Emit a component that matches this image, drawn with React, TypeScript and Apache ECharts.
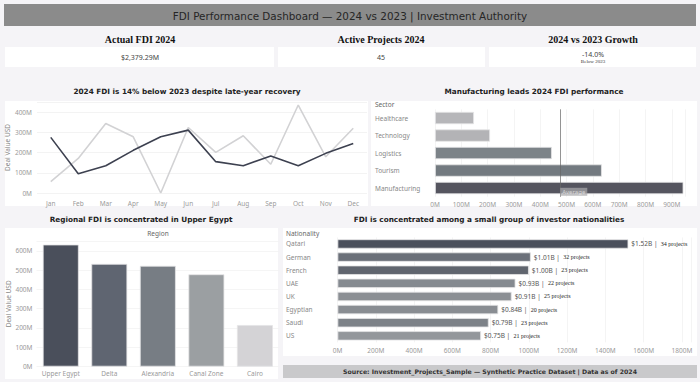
import React, { useEffect, useRef } from "react";
import * as echarts from "echarts";

const months = ["Jan", "Feb", "Mar", "Apr", "May", "Jun", "Jul", "Aug", "Sep", "Oct", "Nov", "Dec"];
const fdi2024 = [275, 95, 135, 211, 278, 311, 155, 135, 183, 135, 196, 245];
const fdi2023 = [56, 171, 344, 278, 0, 324, 201, 283, 142, 435, 179, 320];

const sectors = ["Healthcare", "Technology", "Logistics", "Tourism", "Manufacturing"];
const sectorValues = [148, 209, 444, 634, 944];
const sectorColors = ["#b6b6b9", "#b3b3b6", "#7c8388", "#737a80", "#55555f"];

const regions = ["Upper Egypt", "Delta", "Alexandria", "Canal Zone", "Cairo"];
const regionValues = [632, 532, 522, 478, 215];
const regionColors = ["#4a4f5b", "#5f6571", "#777d84", "#9b9fa2", "#d4d3d6"];

const nationalities = ["Qatari", "German", "French", "UAE", "UK", "Egyptian", "Saudi", "US"];
const nationalityValues = [1520, 1010, 1000, 930, 910, 840, 790, 750];
const nationalityProjects = [34, 32, 23, 22, 25, 20, 23, 21];
const nationalityColors = ["#4b505c", "#6b7079", "#60656e", "#858a90", "#8b8f94", "#898d92", "#7d8288", "#93979b"];

const kpiTitles = ["Actual FDI 2024", "Active Projects 2024", "2024 vs 2023 Growth"];
const kpiValues = ["$2,379.29M", "45", "-14.0%"];

const SANS = "DejaVu Sans";
const LBL = "Noto Sans";
const axisLbl = { color: "#9a9a9a", fontSize: 6.5, fontFamily: LBL };

export default function App() {
  const ref = useRef<HTMLDivElement>(null);
  useEffect(() => {
    const chart = echarts.init(ref.current!, null, { renderer: "svg" });
    const mFmt = (v: number) => (v % 100 === 0 ? v + "M" : "");
    const mFmt200 = (v: number) => (v % 200 === 0 ? v + "M" : "");
    const panel = (x: number, y: number, w: number, h: number, fill = "#ffffff") => ({
      type: "rect", z: -10, shape: { x, y, width: w, height: h }, style: { fill }, silent: true,
    });
    const txt = (x: number, y: number, text: string, font: any, align = "center") => ({
      type: "text", z: 100, x, y,
      style: { text, align, verticalAlign: "middle", ...font },
    });
    const titleFont = { fontFamily: SANS, fontWeight: "bold", fontSize: 7.3, fill: "#222" };
    const kpiFont = { fontFamily: "Liberation Serif", fontWeight: "bold", fontSize: 10, fill: "#111" };
    const valFont = { fontFamily: LBL, fontSize: 7, fill: "#444" };
    const hdrFont = { fontFamily: LBL, fontSize: 6.5, fill: "#666" };

    const option: any = {
      animation: false,
      backgroundColor: "#f5f4f7",
      graphic: [
        panel(4, 4, 692, 22, "#8b8b8b"),
        txt(350, 15.5, "FDI Performance Dashboard \u2014 2024 vs 2023 | Investment Authority", { fontFamily: SANS, fontSize: 10.4, fill: "#262626" }),
        txt(140, 39, kpiTitles[0], kpiFont),
        txt(381, 39, kpiTitles[1], kpiFont),
        txt(593, 39, kpiTitles[2], kpiFont),
        panel(5, 47, 269, 20),
        panel(278, 47, 207, 20),
        panel(489, 47, 207, 20),
        txt(140, 57, kpiValues[0], valFont),
        txt(381, 57, kpiValues[1], valFont),
        txt(593, 54, kpiValues[2], valFont),
        txt(593, 61.5, "Below 2023", { fontFamily: "Liberation Serif", fontSize: 5, fill: "#333" }),
        panel(5, 101, 363, 105),
        txt(187, 91, "2024 FDI is 14% below 2023 despite late-year recovery", titleFont),
        panel(371, 101, 326, 105),
        txt(534, 91, "Manufacturing leads 2024 FDI performance", titleFont),
        txt(375, 104.5, "Sector", hdrFont, "left"),
        panel(5, 228, 273, 151),
        txt(141, 219, "Regional FDI is concentrated in Upper Egypt", titleFont),
        txt(158, 233, "Region", hdrFont),
        panel(283, 228, 414, 128),
        txt(489, 219, "FDI is concentrated among a small group of investor nationalities", titleFont),
        txt(286, 233, "Nationality", hdrFont, "left"),
        panel(283, 365, 414, 13, "#c9c9cb"),
        txt(490, 371.5, "Source: Investment_Projects_Sample \u2014 Synthetic Practice Dataset | Data as of 2024", { fontFamily: SANS, fontWeight: "bold", fontSize: 6.2, fill: "#333" }),
      ],
      grid: [
        { left: 37, top: 102, width: 330, height: 91 },
        { left: 435, top: 109.3, width: 250, height: 87.5 },
        { left: 36.5, top: 241.1, width: 242.7, height: 125.5 },
        { left: 337.5, top: 237.4, width: 354, height: 105 },
      ],
      xAxis: [
        {
          gridIndex: 0, type: "category", data: months, boundaryGap: true,
          axisLine: { show: false }, axisTick: { show: false },
          axisLabel: { ...axisLbl, margin: 7, interval: 0 },
        },
        {
          gridIndex: 1, type: "value", min: 0, max: 950, interval: 100,
          axisLine: { show: false }, axisTick: { show: false },
          axisLabel: { ...axisLbl, margin: 4, formatter: mFmt },
          splitLine: { lineStyle: { color: "#f1f1f1", width: 0.8 } },
        },
        {
          gridIndex: 2, type: "category", data: regions,
          axisLine: { show: false }, axisTick: { show: false },
          axisLabel: { ...axisLbl, margin: 3, interval: 0 },
        },
        {
          gridIndex: 3, type: "value", min: 0, max: 1850, interval: 200,
          axisLine: { show: false }, axisTick: { show: false },
          axisLabel: { ...axisLbl, margin: 5, formatter: mFmt200 },
          splitLine: { lineStyle: { color: "#f1f1f1", width: 0.8 } },
        },
      ],
      yAxis: [
        {
          gridIndex: 0, type: "value", min: 0, max: 450, interval: 100,
          name: "Deal Value USD", nameLocation: "middle", nameGap: 21,
          nameTextStyle: { color: "#888", fontSize: 6.5, fontFamily: LBL },
          axisLine: { show: false }, axisTick: { show: false },
          axisLabel: { ...axisLbl, margin: 5, formatter: mFmt },
          splitLine: { lineStyle: { color: "#f0f0f0", width: 0.8 } },
        },
        {
          gridIndex: 1, type: "category", data: sectors, inverse: true,
          axisLine: { show: false }, axisTick: { show: false },
          axisLabel: { ...axisLbl, align: "left", margin: 60, color: "#888" },
        },
        {
          gridIndex: 2, type: "value", min: 0, max: 650, interval: 100,
          name: "Deal Value USD", nameLocation: "middle", nameGap: 20,
          nameTextStyle: { color: "#888", fontSize: 6.5, fontFamily: LBL },
          axisLine: { show: false }, axisTick: { show: false },
          axisLabel: { ...axisLbl, margin: 4, formatter: mFmt },
          splitLine: { lineStyle: { color: "#f2f2f2", width: 0.8 } },
        },
        {
          gridIndex: 3, type: "category", data: nationalities, inverse: true,
          axisLine: { show: false }, axisTick: { show: false },
          axisLabel: { ...axisLbl, align: "left", margin: 51.5, color: "#888" },
        },
      ],
      series: [
        {
          type: "line", xAxisIndex: 0, yAxisIndex: 0, data: fdi2023, symbol: "none",
          lineStyle: { color: "#d2d2d4", width: 1.6 }, z: 2,
        },
        {
          type: "line", xAxisIndex: 0, yAxisIndex: 0, data: fdi2024, symbol: "none",
          lineStyle: { color: "#3d4150", width: 1.6 }, z: 3,
        },
        {
          type: "bar", xAxisIndex: 1, yAxisIndex: 1, barCategoryGap: "30%",
          data: sectorValues.map((v, i) => ({ value: v, itemStyle: { color: sectorColors[i] } })),
          itemStyle: { borderColor: "#e4e4e6", borderWidth: 0.8 },
          markLine: {
            symbol: "none", silent: true,
            data: [{ type: "average", name: "Average" }],
            lineStyle: { color: "#666", width: 1, type: "solid", opacity: 0.7 },
            label: {
              position: "end", formatter: "Average", color: "#f4f4f4", fontSize: 6,
              fontFamily: LBL, backgroundColor: "#a9a9ad", padding: [1, 2], distance: -9,
              align: "left",
            },
          },
        },
        {
          type: "bar", xAxisIndex: 2, yAxisIndex: 2, barCategoryGap: "26%",
          data: regionValues.map((v, i) => ({ value: v, itemStyle: { color: regionColors[i] } })),
          itemStyle: { borderColor: "#e4e4e6", borderWidth: 0.8 },
        },
        {
          type: "bar", xAxisIndex: 3, yAxisIndex: 3, barCategoryGap: "29%",
          data: nationalityValues.map((v, i) => ({ value: v, itemStyle: { color: nationalityColors[i] } })),
          itemStyle: { borderColor: "#e4e4e6", borderWidth: 0.8 },
          label: {
            show: true, position: "right", distance: 3,
            formatter: (p: any) =>
              `{a|$${(p.value / 1000).toFixed(2)}B |} {b|${nationalityProjects[p.dataIndex]} projects}`,
            rich: {
              a: { fontFamily: LBL, fontSize: 6.5, color: "#555" },
              b: { fontFamily: "Liberation Serif", fontSize: 6, color: "#222" },
            },
          },
        },
      ],
    };
    chart.setOption(option);
    return () => chart.dispose();
  }, []);
  return (
    <div
      ref={ref}
      style={{ position: "fixed", left: 0, top: 0, width: 700, height: 382 }}
    />
  );
}
